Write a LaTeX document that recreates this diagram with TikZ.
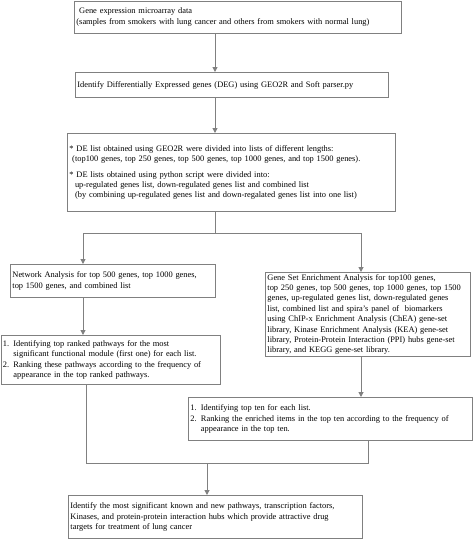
\documentclass[tikz,border=0pt]{standalone}
\usepackage{fontspec}
\setmainfont{Liberation Serif}
\usetikzlibrary{arrows.meta}
\definecolor{edge}{HTML}{808080}
\tikzset{
  box/.style={draw=edge, line width=0.9pt, anchor=north west, align=left, inner xsep=2pt, inner ysep=0pt, font=\fontsize{8.4}{10.4}\selectfont},
  link/.style={draw=edge, line width=1pt},
  arr/.style={link, -{Triangle[width=5pt,length=5pt]}}
}
\begin{document}
\begin{tikzpicture}[x=1pt,y=-1pt]
\useasboundingbox (0,0) rectangle (473,539);
\node[box, minimum width=327pt, minimum height=32pt, text width=323pt] (b1) at (74,0.5)
 {\ Gene expression microarray data\\(samples from smokers with lung cancer and others from smokers with normal lung)};
\node[box, minimum width=313pt, minimum height=25pt, text width=309pt] (b2) at (75,72)
 {Identify Differentially Expressed genes (DEG) using GEO2R and Soft parser.py};
\node[box, minimum width=328pt, minimum height=78pt, text width=324pt] (b3) at (67,133)
 {* DE list obtained using GEO2R were divided into lists of different lengths:\\
 \ (top100 genes, top 250 genes, top 500 genes, top 1000 genes, and top 1500 genes).\\[5pt]
 * DE lists obtained using python script were divided into:\\
 \ \ up-regulated genes list, down-regulated genes list and combined list\\
 \ \ (by combining up-regulated genes list and down-regalated genes list into one list)};
\node[box, minimum width=205pt, minimum height=33pt, text width=201pt] (b4) at (10,264)
 {Network Analysis for top 500 genes, top 1000 genes,\\top 1500 genes, and combined list};
\node[box, minimum width=219pt, minimum height=49pt, text width=215pt] (b6) at (0.5,335)
 {1. Identifying top ranked pathways for the most\\
 \phantom{1. }significant functional module (first one) for each list.\\
 2. Ranking these pathways according to the frequency of\\
 \phantom{2. }appearance in the top ranked pathways.};
\node[box, minimum width=205pt, minimum height=84pt, text width=201pt] (b5) at (265,272)
 {Gene Set Enrichment Analysis for top100 genes,\\
 top 250 genes, top 500 genes, top 1000 genes, top 1500\\
 genes, up-regulated genes list, down-regulated genes\\
 list, combined list and spira's panel of \ biomarkers\\
 using ChIP-x Enrichment Analysis (ChEA) gene-set\\
 library, Kinase Enrichment Analysis (KEA) gene-set\\
 library, Protein-Protein Interaction (PPI) hubs gene-set\\
 library, and KEGG gene-set library.};
\node[box, minimum width=284pt, minimum height=43pt, text width=280pt] (b7) at (188,397)
 {1. Identifying top ten for each list.\\
 2. Ranking the enriched items in the top ten according to the frequency of\\
 \phantom{2. }appearance in the top ten.};
\node[box, minimum width=294pt, minimum height=43pt, text width=290pt] (b8) at (68,495)
 {Identify the most significant known and new pathways, transcription factors,\\
 Kinases, and protein-protein interaction hubs which provide attractive drug\\
 targets for treatment of lung cancer};
% connectors
\draw[arr] (215,0 |- b1.south) -- (215,0 |- b2.north);
\draw[arr] (215,0 |- b2.south) -- (215,0 |- b3.north);
\coordinate (s1) at (215,233);
\coordinate (sl) at (83,233);
\coordinate (sr) at (361,233);
\draw[link] (215,0 |- b3.south) -- (s1);
\draw[link] (sl) -- (sr);
\draw[arr] (sl) -- (sl |- b4.north);
\draw[arr] (sr) -- (sr |- b5.north);
\draw[arr] (83,0 |- b4.south) -- (83,0 |- b6.north);
\draw[arr] (361,0 |- b5.south) -- (361,0 |- b7.north);
\coordinate (jl) at (86,463);
\coordinate (jr) at (368,463);
\coordinate (jm) at (207,463);
\draw[link] (jl |- b6.south) -- (jl) -- (jr) -- (jr |- b7.south);
\draw[arr] (jm) -- (jm |- b8.north);
\end{tikzpicture}
\end{document}
